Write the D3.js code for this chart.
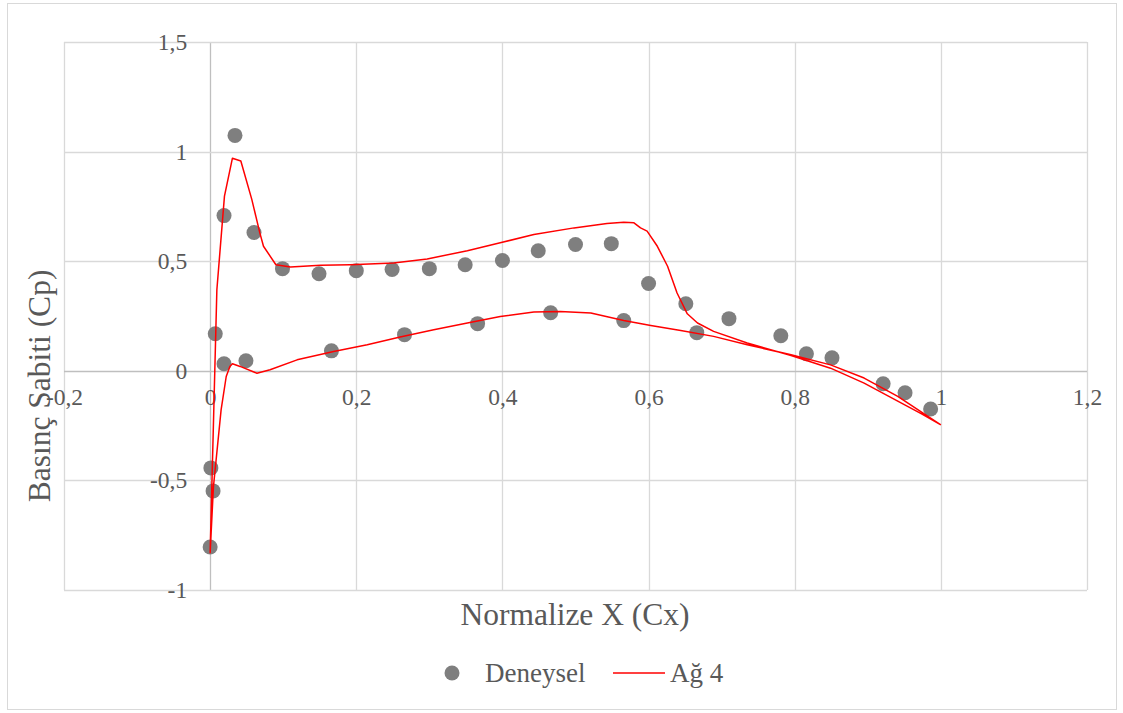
<!DOCTYPE html>
<html>
<head>
<meta charset="utf-8">
<script src="https://cdn.jsdelivr.net/npm/d3@7"></script>
<style>
  body { margin: 0; background: #fff; }
  text { font-family: "Liberation Serif", "Times New Roman", serif; fill: #595959; }
</style>
</head>
<body>
<div class="chart"></div>
<script>
// experimental points (Deneysel)
var deneyX = [0.034, 0.019, 0.060, 0.099, 0.149, 0.200, 0.249, 0.300, 0.349, 0.400, 0.449, 0.500, 0.549, 0.600, 0.651, 0.710, 0.781, 0.816, 0.851, 0.921, 0.951, 0.986,
              0.007, 0.019, 0.049, 0.166, 0.266, 0.366, 0.466, 0.566, 0.666, 0.001, 0.004, 0.000];
var deneyCp = [1.074, 0.708, 0.631, 0.466, 0.443, 0.457, 0.462, 0.466, 0.484, 0.503, 0.548, 0.576, 0.580, 0.398, 0.306, 0.238, 0.160, 0.078, 0.059, -0.059, -0.100, -0.174,
               0.169, 0.032, 0.046, 0.091, 0.165, 0.215, 0.265, 0.229, 0.174, -0.443, -0.548, -0.804];

// simulation (Ağ 4), closed loop: TE -> upper branch -> LE -> lower branch -> TE
var agX = [1.000, 0.973, 0.941, 0.895, 0.849, 0.795, 0.735, 0.689, 0.667, 0.653, 0.639, 0.626, 0.612, 0.598, 0.589, 0.580, 0.566, 0.543, 0.498, 0.443, 0.397, 0.352, 0.297, 0.251, 0.192, 0.151, 0.110, 0.090, 0.073, 0.068, 0.057, 0.042, 0.0305, 0.0196, 0.0092, 0.000,
           0.0045, 0.015, 0.022, 0.027, 0.0305, 0.041, 0.064, 0.082, 0.119, 0.169, 0.215, 0.260, 0.306, 0.352, 0.397, 0.443, 0.479, 0.521, 0.566, 0.603, 0.644, 0.689, 0.735, 0.795, 0.849, 0.895, 0.941, 1.000];
var agCp = [-0.247, -0.195, -0.138, -0.056, 0.012, 0.070, 0.127, 0.180, 0.218, 0.260, 0.355, 0.477, 0.568, 0.637, 0.652, 0.675, 0.678, 0.672, 0.652, 0.622, 0.584, 0.548, 0.510, 0.492, 0.484, 0.481, 0.474, 0.484, 0.568, 0.629, 0.782, 0.957, 0.970, 0.797, 0.370, -0.830,
            -0.529, -0.178, -0.026, 0.020, 0.032, 0.020, -0.011, 0.005, 0.050, 0.088, 0.119, 0.154, 0.187, 0.218, 0.248, 0.268, 0.271, 0.264, 0.229, 0.207, 0.184, 0.157, 0.119, 0.073, 0.027, -0.033, -0.117, -0.247];

var xTicks = [-0.2, 0, 0.2, 0.4, 0.6, 0.8, 1, 1.2];
var yTicks = [-1, -0.5, 0, 0.5, 1, 1.5];

var W = 1123, H = 713;
var plot = {left: 64, top: 42, right: 1087, bottom: 590};

var fmt = d3.formatLocale({decimal: ",", thousands: ".", grouping: [3], currency: ["", ""], minus: "-"}).format("~g");

var svg = d3.select(".chart").append("svg")
  .attr("width", W)
  .attr("height", H);

// chart border
svg.append("rect")
  .attr("x", 7.5).attr("y", 3.5)
  .attr("width", 1109).attr("height", 706)
  .attr("fill", "#fff")
  .attr("stroke", "#d9d9d9");

var x = d3.scaleLinear().domain([-0.2, 1.2]).range([plot.left, plot.right]);
var y = d3.scaleLinear().domain([-1, 1.5]).range([plot.bottom, plot.top]);

// gridlines
svg.append("g")
  .selectAll("line.vg")
  .data(xTicks)
  .enter().append("line")
  .attr("x1", function(d) { return Math.round(x(d)) + 0.5; })
  .attr("x2", function(d) { return Math.round(x(d)) + 0.5; })
  .attr("y1", plot.top).attr("y2", plot.bottom)
  .attr("stroke", function(d) { return d === 0 ? "#bfbfbf" : "#d9d9d9"; })
  .attr("stroke-width", 1.3);

svg.append("g")
  .selectAll("line.hg")
  .data(yTicks)
  .enter().append("line")
  .attr("y1", function(d) { return Math.round(y(d)) + 0.5; })
  .attr("y2", function(d) { return Math.round(y(d)) + 0.5; })
  .attr("x1", plot.left).attr("x2", plot.right)
  .attr("stroke", function(d) { return d === 0 ? "#bfbfbf" : "#d9d9d9"; })
  .attr("stroke-width", 1.3);

// Y tick labels (axis crosses at x = 0)
var yAxis = d3.axisLeft(y).tickValues(yTicks).tickFormat(fmt).tickSize(0).tickPadding(23);
var gy = svg.append("g")
  .attr("transform", "translate(" + x(0) + ",0)")
  .call(yAxis);
gy.select(".domain").remove();
gy.selectAll("text")
  .style("font-family", "'Liberation Serif', serif")
  .style("font-size", "23.5px")
  .attr("fill", "#595959");

// X tick labels (axis crosses at y = 0)
var xAxis = d3.axisBottom(x).tickValues(xTicks).tickFormat(fmt).tickSize(0).tickPadding(18);
var gx = svg.append("g")
  .attr("transform", "translate(0," + y(0) + ")")
  .call(xAxis);
gx.select(".domain").remove();
gx.selectAll("text")
  .style("font-family", "'Liberation Serif', serif")
  .style("font-size", "23.5px")
  .attr("fill", "#595959");

// axis titles
svg.append("text")
  .attr("x", 575).attr("y", 625)
  .style("text-anchor", "middle")
  .style("font-size", "31.5px")
  .text("Normalize X (Cx)");

svg.append("text")
  .attr("transform", "translate(50,386) rotate(-90)")
  .style("text-anchor", "middle")
  .style("font-size", "31.5px")
  .text("Basınç Sabiti (Cp)");

// experimental dots
var pts = deneyX.map(function(d, i) { return {x: d, cp: deneyCp[i]}; });
svg.append("g")
  .selectAll("circle")
  .data(pts)
  .enter().append("circle")
  .attr("cx", function(d) { return x(d.x); })
  .attr("cy", function(d) { return y(d.cp); })
  .attr("r", 7.5)
  .attr("fill", "#7f7f7f");

// simulation line
var linePts = agX.map(function(d, i) { return {x: d, cp: agCp[i]}; });
var line = d3.line()
  .x(function(d) { return x(d.x); })
  .y(function(d) { return y(d.cp); });

svg.append("path")
  .datum(linePts)
  .attr("d", line)
  .attr("fill", "none")
  .attr("stroke", "#ff0000")
  .attr("stroke-width", 1.5)
  .attr("stroke-linejoin", "round");

// legend
var lg = svg.append("g");
lg.append("circle").attr("cx", 452).attr("cy", 673).attr("r", 7.5).attr("fill", "#7f7f7f");
lg.append("text").attr("x", 485).attr("y", 682).style("font-size", "27px").text("Deneysel");
lg.append("line").attr("x1", 613).attr("x2", 665).attr("y1", 673).attr("y2", 673)
  .attr("stroke", "#ff0000").attr("stroke-width", 1.5);
lg.append("text").attr("x", 670).attr("y", 682).style("font-size", "27px").text("Ağ 4");
</script>
</body>
</html>
